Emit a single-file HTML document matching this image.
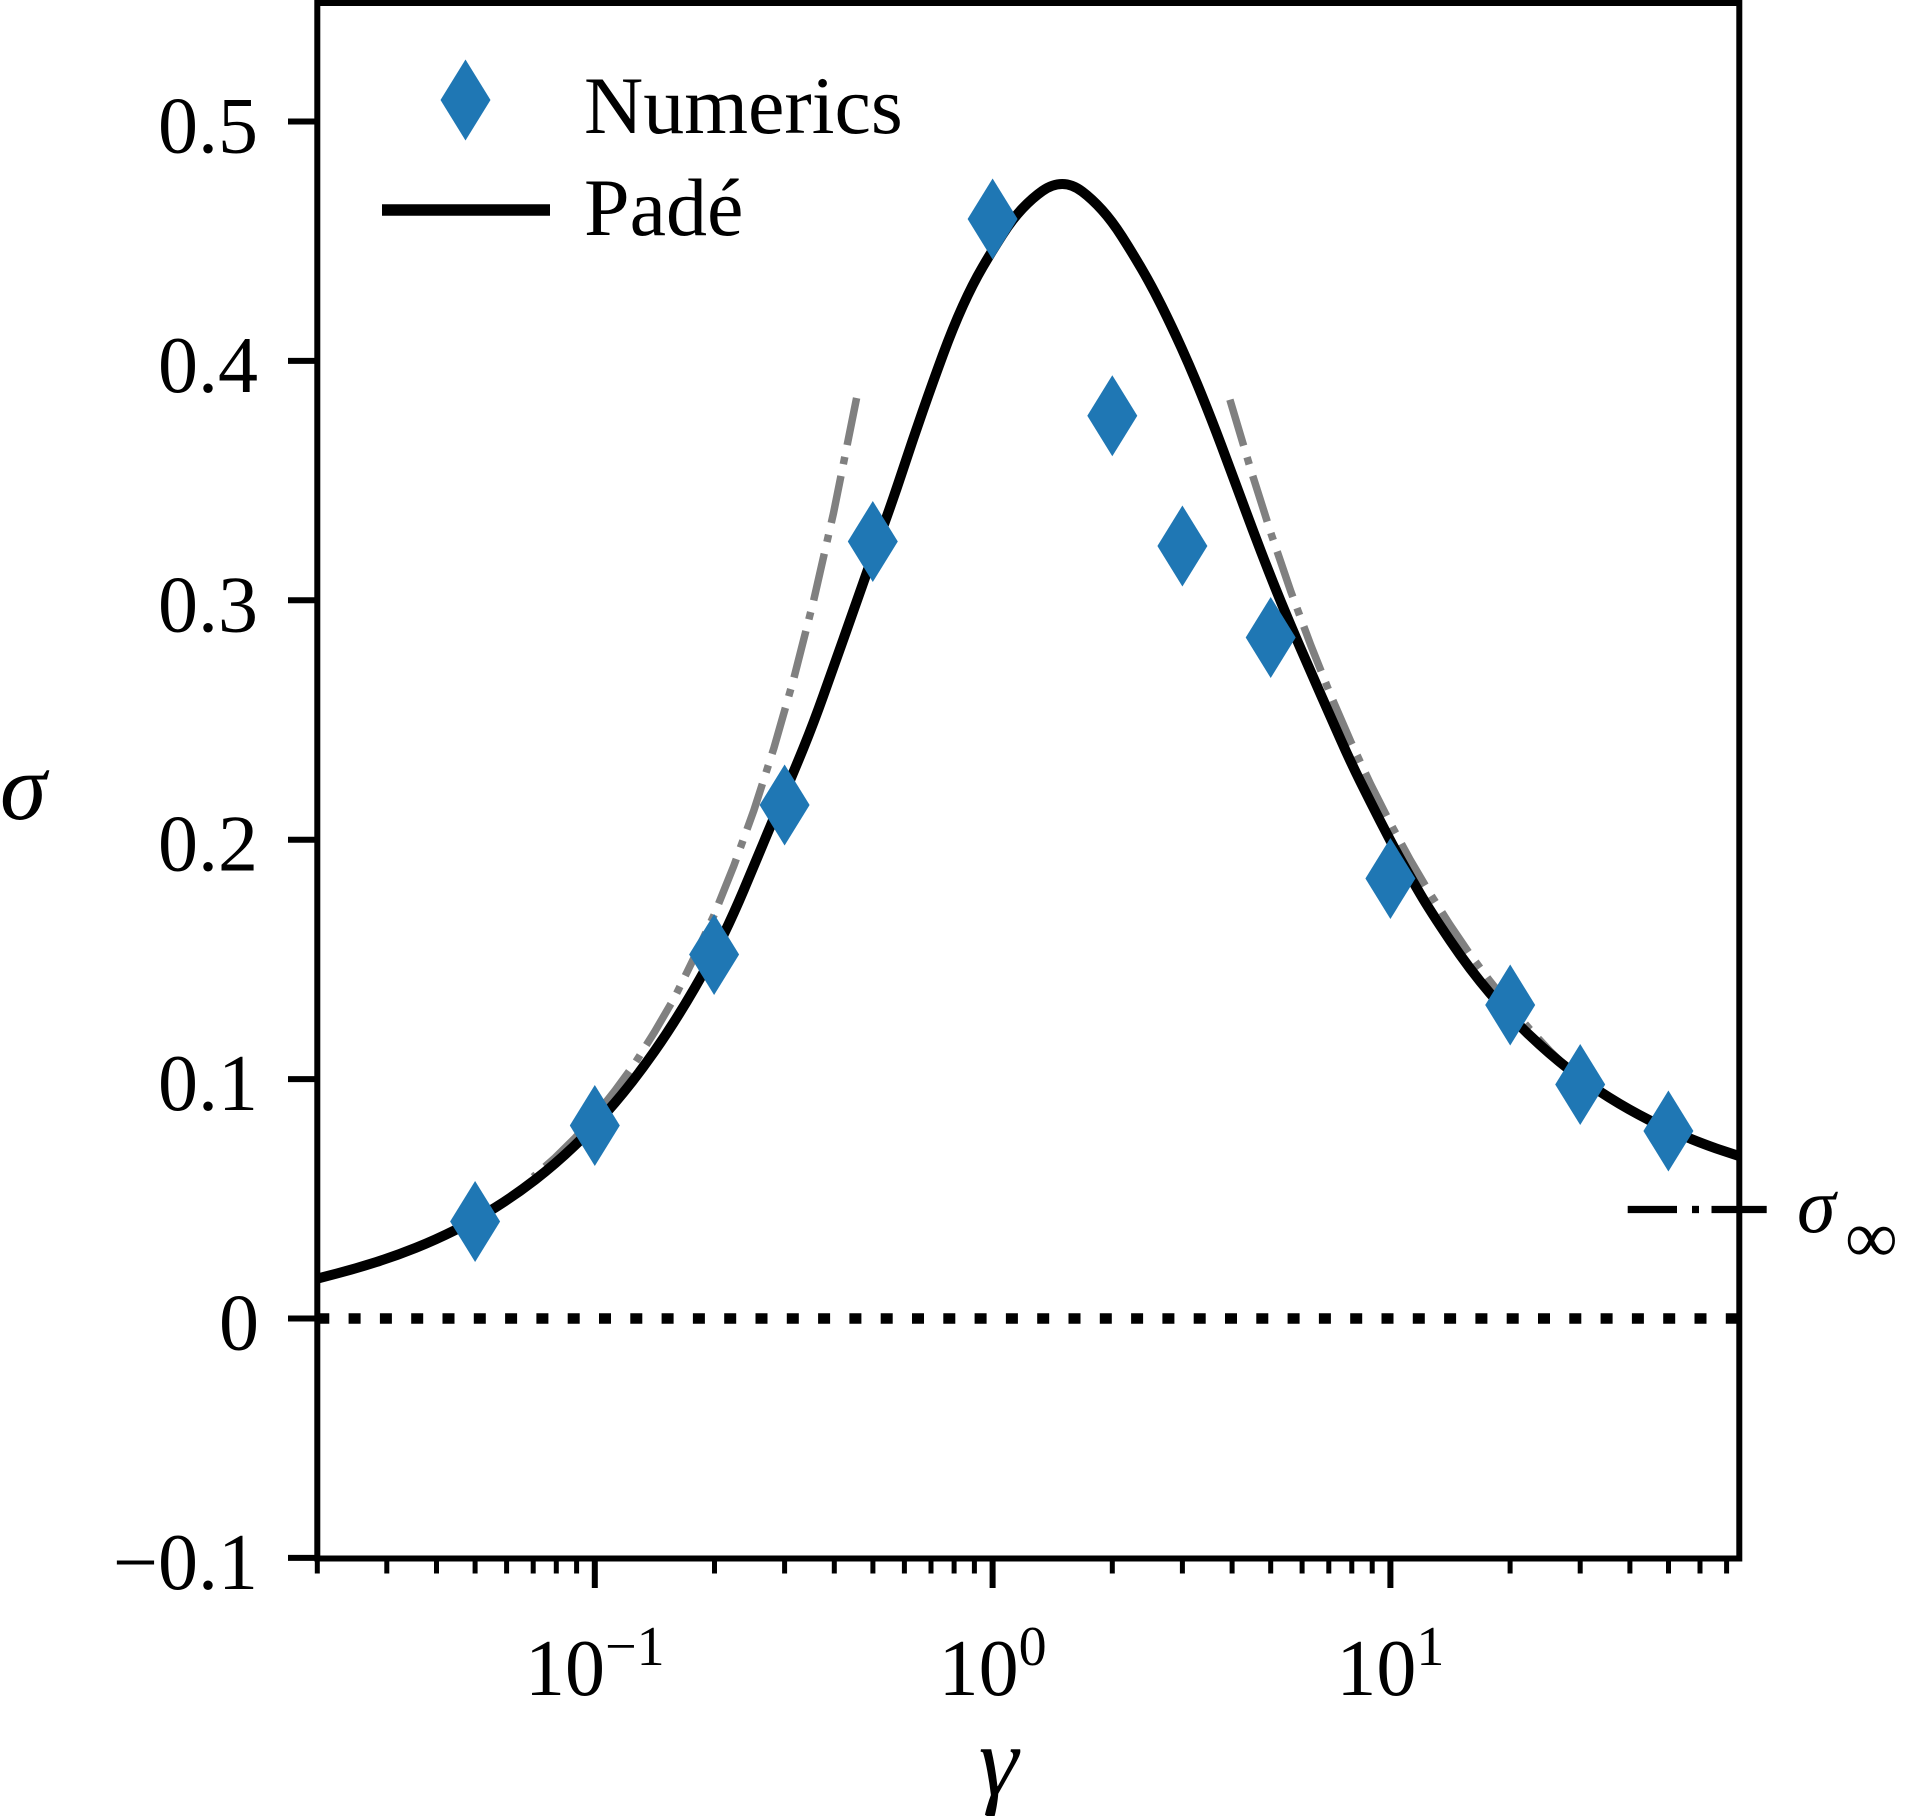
<!DOCTYPE html>
<html>
<head>
<meta charset="utf-8">
<style>
  html, body { margin: 0; padding: 0; background: #ffffff; }
  svg { display: block; }
  text { font-family: "Liberation Serif", "DejaVu Serif", serif; fill: #000; }
</style>
</head>
<body>
<svg width="1906" height="1817" viewBox="0 0 1906 1817" xmlns="http://www.w3.org/2000/svg">
  <rect x="0" y="0" width="1906" height="1817" fill="#ffffff"/>
  <line x1="317.3" y1="1318.5" x2="1739" y2="1318.5" stroke="#000" stroke-width="10.5" stroke-dasharray="12 19.3"/>
  <polyline fill="none" stroke="#808080" stroke-width="7.5" stroke-dasharray="48 12 7.5 12" points="856.6,398 833.5,513.1 813.6,600.7 793.7,678.8 773.8,748.4 753.9,810.3 733.9,865.6 714.1,914.9 694.2,957.5 674.4,997.9 654.5,1032 634.6,1063.8 614.7,1091 594.8,1116.2 575,1138 555,1157.8 533.2,1176.9"/>
  <polyline fill="none" stroke="#808080" stroke-width="7.5" stroke-dasharray="48 12 7.5 12" points="1229.9,399.7 1251.2,471 1271.1,533.7 1290.9,591.7 1310.8,645.3 1330.7,695.3 1350.6,741.3 1370.5,783.9 1390.4,823.4 1410.3,860 1430.2,893.8 1450.1,925 1470,954.3 1489.9,981 1509.7,1006.1 1529.6,1029 1549.5,1050.6 1580.2,1080.3"/>
  <path fill="none" stroke="#000" stroke-width="10" stroke-linejoin="round" d="M317.3,1278.6 L336.7,1273.55 Q356.1,1268.5 376,1262.15 Q395.9,1255.8 415.8,1247.8 Q435.7,1239.8 455.6,1229.85 Q475.5,1219.9 495.35,1207.5 Q515.2,1195.1 535.1,1179.75 Q555,1164.4 574.9,1145.4 Q594.8,1126.4 614.7,1103.05 Q634.6,1079.7 654.5,1051.3 Q674.4,1022.9 694.25,988.7 Q714.1,954.5 724.05,933.75 Q734,913 743.95,889.5 Q753.9,866 763.85,842 Q773.8,818 783.75,795 Q793.7,772 803.65,747.5 Q813.6,723 823.55,695 Q833.5,667 843.45,639 Q853.4,611 863.35,582.5 Q873.3,554 883.25,526.5 Q893.2,499 903.1,469 Q913,439 922.95,410.5 Q932.9,382 942.85,355 Q952.8,328 962.75,306 Q972.7,284 982.65,267 Q992.6,250 1002.55,234.5 Q1012.5,219 1022.45,208.5 Q1032.4,198 1042.35,191 Q1052.3,184 1062.25,184 Q1072.2,184 1082.15,191.5 Q1092.1,199 1102.05,210 Q1112,221 1121.9,236.5 Q1131.8,252 1141.75,269 Q1151.7,286 1161.65,306 Q1171.6,326 1181.55,348 Q1191.5,370 1201.45,394.5 Q1211.4,419 1221.35,445.5 Q1231.3,472 1241.25,499 Q1251.2,526 1261.15,552 Q1271.1,578 1281,602 Q1290.9,626 1300.85,649 Q1310.8,672 1320.75,694.5 Q1330.7,717 1340.65,739.5 Q1350.6,762 1360.55,782 Q1370.5,802 1380.45,821.5 Q1390.4,841 1400.35,859 Q1410.3,877 1420.25,894 Q1430.2,911 1450.1,940.45 Q1470,969.9 1489.85,993.1 Q1509.7,1016.3 1529.6,1035.3 Q1549.5,1054.3 1569.4,1069.7 Q1589.3,1085.1 1609.2,1097.55 Q1629.1,1110 1649,1120 Q1668.9,1130 1688.75,1138.05 Q1708.6,1146.1 1723.8,1151.05 L1739,1156"/>
  <g stroke="#000" stroke-width="7.3">
    <line x1="1627.7" y1="1209.5" x2="1677" y2="1209.5"/>
    <line x1="1692" y1="1209.5" x2="1699" y2="1209.5"/>
    <line x1="1711.5" y1="1209.5" x2="1766.7" y2="1209.5"/>
  </g>
  <g fill="#1f77b4">
    <polygon points="475.1,1181 500.1,1221.5 475.1,1262 450.1,1221.5"/>
    <polygon points="594.8,1085 619.8,1125.5 594.8,1166 569.8,1125.5"/>
    <polygon points="714.1,914 739.1,954.5 714.1,995 689.1,954.5"/>
    <polygon points="784.6,764.5 809.6,805 784.6,845.5 759.6,805"/>
    <polygon points="872.8,501 897.8,541.5 872.8,582 847.8,541.5"/>
    <polygon points="992.6,178.5 1017.6,219 992.6,259.5 967.6,219"/>
    <polygon points="1112.3,375.2 1137.3,415.7 1112.3,456.2 1087.3,415.7"/>
    <polygon points="1182.4,505.5 1207.4,546 1182.4,586.5 1157.4,546"/>
    <polygon points="1270.7,597 1295.7,637.5 1270.7,678 1245.7,637.5"/>
    <polygon points="1390.4,838 1415.4,878.5 1390.4,919 1365.4,878.5"/>
    <polygon points="1510.2,964.5 1535.2,1005 1510.2,1045.5 1485.2,1005"/>
    <polygon points="1580.2,1044 1605.2,1084.5 1580.2,1125 1555.2,1084.5"/>
    <polygon points="1668.4,1090.5 1693.4,1131 1668.4,1171.5 1643.4,1131"/>
  </g>
  <rect x="317.3" y="3" width="1422" height="1555.5" fill="none" stroke="#000" stroke-width="6"/>
  <path d="M288,121.5H317.3 M288,360.9H317.3 M288,600.3H317.3 M288,839.7H317.3 M288,1079.1H317.3 M288,1318.5H317.3 M288,1557.9H317.3" stroke="#000" stroke-width="6" fill="none"/>
  <path d="M594.8,1558.5V1588 M992.6,1558.5V1588 M1390.4,1558.5V1588" stroke="#000" stroke-width="6" fill="none"/>
  <path d="M317.3,1558.5V1573.5 M386.8,1558.5V1573.5 M436.5,1558.5V1573.5 M475.1,1558.5V1573.5 M506.6,1558.5V1573.5 M533.2,1558.5V1573.5 M556.3,1558.5V1573.5 M576.6,1558.5V1573.5 M714.5,1558.5V1573.5 M784.6,1558.5V1573.5 M834.3,1558.5V1573.5 M872.9,1558.5V1573.5 M904.4,1558.5V1573.5 M931,1558.5V1573.5 M954.1,1558.5V1573.5 M974.4,1558.5V1573.5 M1112.3,1558.5V1573.5 M1182.4,1558.5V1573.5 M1232.1,1558.5V1573.5 M1270.7,1558.5V1573.5 M1302.1,1558.5V1573.5 M1328.8,1558.5V1573.5 M1351.8,1558.5V1573.5 M1372.2,1558.5V1573.5 M1510.1,1558.5V1573.5 M1580.2,1558.5V1573.5 M1629.9,1558.5V1573.5 M1668.5,1558.5V1573.5 M1700,1558.5V1573.5 M1726.6,1558.5V1573.5" stroke="#000" stroke-width="5" fill="none"/>
  <g font-size="80" text-anchor="end">
    <text x="258" y="152.5">0.5</text>
    <text x="258" y="391.9">0.4</text>
    <text x="258" y="631.3">0.3</text>
    <text x="258" y="870.7">0.2</text>
    <text x="258" y="1110.1">0.1</text>
    <text x="259" y="1349.5">0</text>
    <text x="258" y="1588.9">−0.1</text>
  </g>
  <g font-size="80" text-anchor="middle">
    <text x="594.8" y="1695">10<tspan font-size="56" dy="-30">−1</tspan></text>
    <text x="992.6" y="1695">10<tspan font-size="56" dy="-30">0</tspan></text>
    <text x="1390.4" y="1695">10<tspan font-size="56" dy="-30">1</tspan></text>
  </g>
  <text x="998.5" y="1795" font-size="100" font-style="italic" text-anchor="middle">γ</text>
  <text x="0" y="819" font-size="94" font-style="italic">σ</text>
  <text x="1797" y="1232" font-size="78" font-style="italic">σ</text>
  <text x="1845" y="1262" font-size="74">∞</text>
  <polygon points="465.5,59.5 490.5,100 465.5,140.5 440.5,100" fill="#1f77b4"/>
  <text x="584" y="133" font-size="82">Numerics</text>
  <line x1="382" y1="210" x2="550" y2="210" stroke="#000" stroke-width="11.5"/>
  <text x="584" y="235" font-size="82">Padé</text>
</svg>
</body>
</html>
